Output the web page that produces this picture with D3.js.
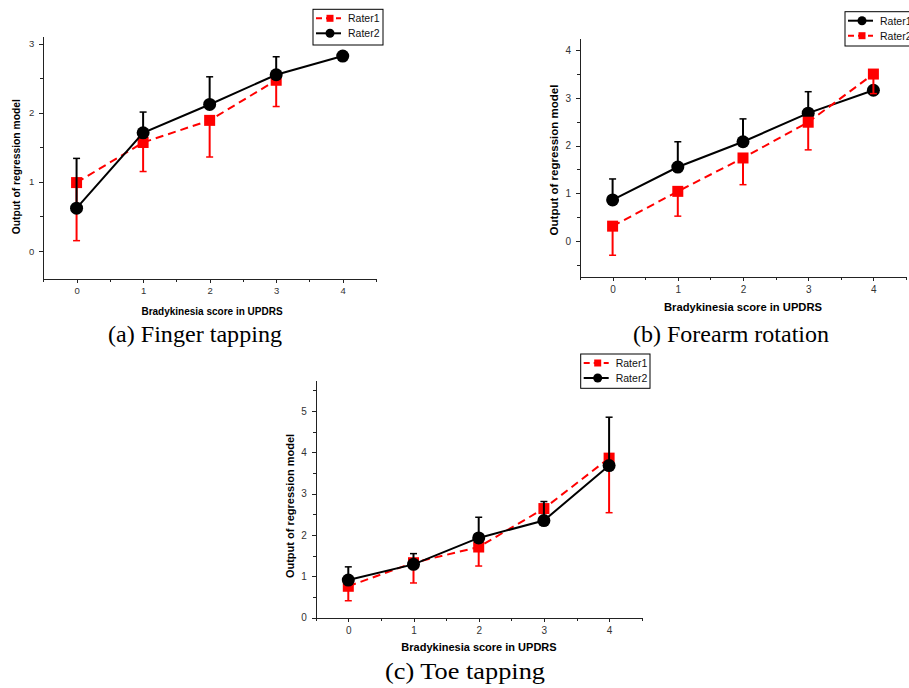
<!DOCTYPE html>
<head>
    <title>Regression output vs UPDRS score</title>
    <meta charset="utf-8" />
</head>

<style>
    body {
        margin: 0;
        background: #fff;
    }

    .axis path,
    .axis line {
        fill: none;
        stroke: #222;
        stroke-width: 1px;
        shape-rendering: crispEdges;
    }

    .axis text {
        fill: #333;
        font-family: "Liberation Sans", Arial, sans-serif;
    }

    .title {
        font-family: "Liberation Sans", Arial, sans-serif;
        font-weight: bold;
        fill: #000;
    }

    .caption {
        font-family: "Liberation Serif", "Times New Roman", serif;
        font-size: 23.5px;
        fill: #000;
    }

    .legend text {
        font-family: "Liberation Sans", Arial, sans-serif;
        font-size: 10.5px;
        fill: #111;
    }
</style>

<body>
    <svg id="chart" width="909" height="688"></svg>

    <script src="https://d3js.org/d3.v7.min.js"></script>

    <script>
        // bradykinesia scores on the x axis
        var scores = [0, 1, 2, 3, 4];
        var xTicks = [0, 1, 2, 3, 4];

        // (a) finger tapping, mean and one-sided SD
        var fingerRater1 = [0.99, 1.57, 1.89, 2.47, null];
        var fingerRater1Sd = [0.84, 0.42, 0.53, 0.38, null];
        var fingerRater2 = [0.62, 1.71, 2.12, 2.55, 2.82];
        var fingerRater2Sd = [0.72, 0.30, 0.40, 0.26, 0];
        var fingerYTicks = [0, 1, 2, 3];

        // (b) forearm rotation
        var forearmRater1 = [0.86, 1.55, 2.08, 2.68, 3.16];
        var forearmRater1Sd = [0.44, 0.53, 0.48, 0.45, 0];
        var forearmRater2 = [0.31, 1.04, 1.74, 2.49, 3.50];
        var forearmRater2Sd = [0.61, 0.52, 0.56, 0.58, 0.41];
        var forearmYTicks = [0, 1, 2, 3, 4];

        // (c) toe tapping
        var toeRater1 = [0.76, 1.33, 1.71, 2.64, 3.86];
        var toeRater1Sd = [0.35, 0.49, 0.46, 0.34, 1.32];
        var toeRater2 = [0.91, 1.29, 1.93, 2.35, 3.68];
        var toeRater2Sd = [0.32, 0.26, 0.50, 0.46, 1.17];
        var toeYTicks = [0, 1, 2, 3, 4, 5];

        var svg = d3.select("#chart");

        function makeSeries(name, values, sd, style, dir) {
            return {
                name: name,
                style: style,
                dir: dir, // +1 bars go up, -1 bars go down
                points: scores.map(function(s, i) {
                    return { x: s, y: values[i], sd: sd[i] };
                }).filter(function(d) {
                    return d.y != null;
                })
            };
        }

        var panels = [{
            caption: "(a) Finger tapping",
            captionWidth: 174,
            xRange: [43.3, 376],
            yDomain: [-0.4, 3.1],
            yRange: [278.7, 36.7],
            yTicks: fingerYTicks,
            tickFont: 9.5,
            xTitleFont: 10,
            yTitleFont: 10.3,
            xTitle: [212, 315],
            yTitle: [20, 166.7],
            captionPos: [195, 342],
            legend: { x: 313, y: 9.3, w: 70, h: 35.7 },
            series: [
                makeSeries("Rater1", fingerRater1, fingerRater1Sd, "red", -1),
                makeSeries("Rater2", fingerRater2, fingerRater2Sd, "black", 1)
            ]
        }, {
            caption: "(b) Forearm rotation",
            captionWidth: 196,
            xRange: [580, 906],
            yDomain: [-0.75, 4.25],
            yRange: [276.7, 38.3],
            yTicks: forearmYTicks,
            tickFont: 10,
            xTitleFont: 11.2,
            yTitleFont: 11.5,
            xTitle: [743, 310.5],
            yTitle: [557.5, 160],
            captionPos: [731, 342],
            legend: { x: 845, y: 11.7, w: 70, h: 34.3 },
            series: [
                makeSeries("Rater1", forearmRater1, forearmRater1Sd, "black", 1),
                makeSeries("Rater2", forearmRater2, forearmRater2Sd, "red", -1)
            ]
        }, {
            caption: "(c) Toe tapping",
            captionWidth: 160,
            xRange: [315.7, 641.7],
            yDomain: [0, 5.75],
            yRange: [617.7, 380],
            yTicks: toeYTicks,
            tickFont: 10,
            xTitleFont: 11,
            yTitleFont: 11,
            xTitle: [479, 651],
            yTitle: [294, 506],
            captionPos: [465, 679],
            legend: { x: 580.7, y: 354, w: 69.3, h: 34.3 },
            series: [
                makeSeries("Rater1", toeRater1, toeRater1Sd, "red", -1),
                makeSeries("Rater2", toeRater2, toeRater2Sd, "black", 1)
            ]
        }];

        var styles = {
            red: { color: "#ff0000", dash: "8,5", marker: "square" },
            black: { color: "#000000", dash: null, marker: "circle" }
        };

        function drawMarker(g, kind, color, cx, cy, size) {
            if (kind === "square") {
                g.append("rect")
                    .attr("x", cx - size / 2)
                    .attr("y", cy - size / 2)
                    .attr("width", size)
                    .attr("height", size)
                    .attr("fill", color);
            } else {
                g.append("circle")
                    .attr("cx", cx)
                    .attr("cy", cy)
                    .attr("r", size / 2 + 1)
                    .attr("fill", color);
            }
        }

        panels.forEach(function(p) {
            var x = d3.scaleLinear().domain([-0.5, 4.5]).range(p.xRange);
            var y = d3.scaleLinear().domain(p.yDomain).range(p.yRange);
            var g = svg.append("g");

            // minor ticks every 0.5
            var xMinor = d3.range(-0.5, 4.51, 0.5).filter(function(v) { return v % 1 !== 0; });
            var yMinor = d3.range(Math.ceil(p.yDomain[0] * 2) / 2, p.yDomain[1] + 0.01, 0.5)
                .filter(function(v) { return v % 1 !== 0; });

            g.append("g")
                .attr("class", "axis")
                .attr("transform", "translate(0," + p.yRange[0] + ")")
                .call(d3.axisBottom(x).tickValues(xMinor).tickSize(3).tickSizeOuter(0).tickFormat(""));

            g.append("g")
                .attr("class", "axis")
                .attr("transform", "translate(0," + p.yRange[0] + ")")
                .call(d3.axisBottom(x).tickValues(xTicks).tickSize(4).tickSizeOuter(0).tickPadding(5).tickFormat(d3.format("d")))
                .selectAll("text").attr("font-size", p.tickFont + "px");

            g.append("g")
                .attr("class", "axis")
                .attr("transform", "translate(" + p.xRange[0] + ",0)")
                .call(d3.axisLeft(y).tickValues(yMinor).tickSize(3).tickSizeOuter(0).tickFormat(""));

            g.append("g")
                .attr("class", "axis")
                .attr("transform", "translate(" + p.xRange[0] + ",0)")
                .call(d3.axisLeft(y).tickValues(p.yTicks).tickSize(4).tickSizeOuter(0).tickPadding(5).tickFormat(d3.format("d")))
                .selectAll("text").attr("font-size", p.tickFont + "px");

            // series: line, error bars, markers
            var line = d3.line()
                .x(function(d) { return x(d.x); })
                .y(function(d) { return y(d.y); });

            p.series.forEach(function(s) {
                var st = styles[s.style];
                var sg = g.append("g");

                sg.append("path")
                    .datum(s.points)
                    .attr("d", line)
                    .attr("fill", "none")
                    .attr("stroke", st.color)
                    .attr("stroke-width", 2)
                    .attr("stroke-dasharray", st.dash);

                s.points.forEach(function(d) {
                    if (!d.sd) return;
                    var end = y(d.y + s.dir * d.sd);
                    sg.append("line")
                        .attr("x1", x(d.x)).attr("x2", x(d.x))
                        .attr("y1", y(d.y)).attr("y2", end)
                        .attr("stroke", st.color)
                        .attr("stroke-width", 2);
                    sg.append("line")
                        .attr("x1", x(d.x) - 3.5).attr("x2", x(d.x) + 3.5)
                        .attr("y1", end).attr("y2", end)
                        .attr("stroke", st.color)
                        .attr("stroke-width", 1.5);
                });

                s.points.forEach(function(d) {
                    drawMarker(sg, st.marker, st.color, x(d.x), y(d.y), 11);
                });
            });

            // titles
            g.append("text")
                .attr("class", "title")
                .attr("x", p.xTitle[0])
                .attr("y", p.xTitle[1])
                .attr("text-anchor", "middle")
                .attr("font-size", p.xTitleFont + "px")
                .text("Bradykinesia score in UPDRS");

            g.append("text")
                .attr("class", "title")
                .attr("transform", "translate(" + p.yTitle[0] + "," + p.yTitle[1] + ") rotate(-90)")
                .attr("text-anchor", "middle")
                .attr("font-size", p.yTitleFont + "px")
                .text("Output of regression model");

            g.append("text")
                .attr("class", "caption")
                .attr("x", p.captionPos[0])
                .attr("y", p.captionPos[1])
                .attr("text-anchor", "middle")
                .attr("textLength", p.captionWidth)
                .attr("lengthAdjust", "spacingAndGlyphs")
                .text(p.caption);

            // legend
            var lg = g.append("g")
                .attr("class", "legend")
                .attr("transform", "translate(" + p.legend.x + "," + p.legend.y + ")");

            lg.append("rect")
                .attr("width", p.legend.w)
                .attr("height", p.legend.h)
                .attr("fill", "#fff")
                .attr("stroke", "#000")
                .attr("stroke-width", 1);

            p.series.forEach(function(s, i) {
                var st = styles[s.style];
                var ry = 9 + i * 15;
                lg.append("line")
                    .attr("x1", 3).attr("x2", 28)
                    .attr("y1", ry).attr("y2", ry)
                    .attr("stroke", st.color)
                    .attr("stroke-width", 2)
                    .attr("stroke-dasharray", st.dash ? "6,4" : null);
                drawMarker(lg, st.marker, st.color, 17, ry, 7);
                lg.append("text")
                    .attr("x", 35)
                    .attr("y", ry + 4)
                    .text(s.name);
            });
        });
    </script>
</body>
